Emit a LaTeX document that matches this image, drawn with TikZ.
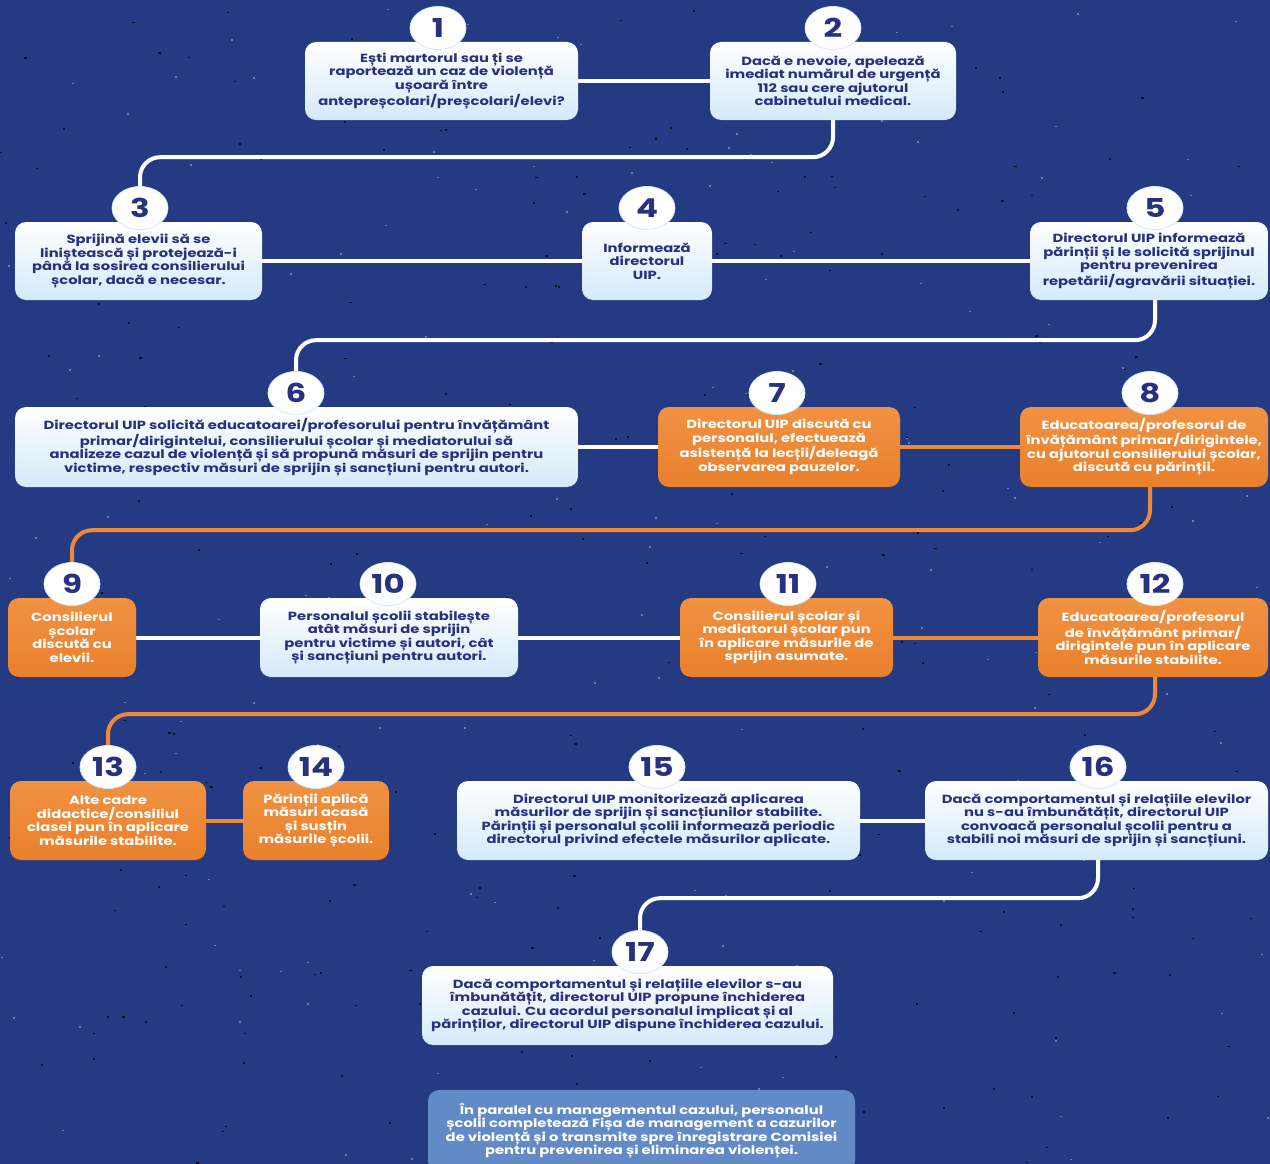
\documentclass[tikz,border=0pt]{standalone}
\usepackage{fontspec}
\setmainfont{Poppins}
\newfontfamily\widefam{Poppins}[FakeStretch=1.25]
\usetikzlibrary{calc,shapes.geometric}
\definecolor{bgblue}{RGB}{36,58,130}
\definecolor{navy}{RGB}{40,48,128}
\definecolor{boxblue}{RGB}{212,234,250}
\definecolor{orangetop}{RGB}{241,146,66}
\definecolor{orangebot}{RGB}{233,128,44}
\definecolor{orangeline}{RGB}{238,137,55}
\definecolor{notefill}{RGB}{98,138,198}
\pgfdeclarelayer{back}
\pgfdeclarelayer{conn}
\pgfsetlayers{back,conn,main}
\newcommand{\bxf}{\widefam\bfseries\fontsize{11.8}{13.5}\selectfont}
\newcommand{\nmf}{\widefam\bfseries\fontsize{26}{26}\selectfont}
\begin{document}
\begin{tikzpicture}[x=1pt,y=-1pt,
  wbox/.style={rectangle, rounded corners=11, top color=white, bottom color=boxblue, draw=none, inner sep=0, align=center, text=navy, font=\bxf},
  obox/.style={rectangle, rounded corners=11, top color=orangetop, bottom color=orangebot, draw=none, inner sep=0, align=center, text=white, font=\bxf},
  pbox/.style={rectangle, rounded corners=11, fill=notefill, draw=none, inner sep=0, align=center, text=white, font=\bxf},
  num/.style={ellipse, fill=white, draw=boxblue, line width=0.8, minimum width=56, minimum height=43, inner sep=0, text=navy, font=\nmf},
  wline/.style={line width=4, white},
  oline/.style={line width=4, orangeline}]
\clip (0,0) rectangle (1270,1164);
\begin{pgfonlayer}{back}
\fill[bgblue] (0,0) rectangle (1270,1164);
\pgfmathsetseed{7}
\foreach \i in {1,...,260}{
  \pgfmathsetmacro{\px}{rnd*1270}\pgfmathsetmacro{\py}{rnd*1164}
  \fill[black!80!bgblue] (\px,\py) rectangle ++(2.2,1.6);}
\foreach \i in {1,...,160}{
  \pgfmathsetmacro{\px}{rnd*1270}\pgfmathsetmacro{\py}{rnd*1164}
  \fill[white, opacity=0.35] (\px,\py) rectangle ++(2,1.4);}
\end{pgfonlayer}

% row 1
\node[wbox, minimum width=273, minimum height=78] (b1) at (441.5,81) {Ești martorul sau ți se\\raportează un caz de violență\\ușoară între\\antepreșcolari/preșcolari/elevi?};
\node[wbox, minimum width=246, minimum height=78] (b2) at (833,81) {Dacă e nevoie, apelează\\imediat numărul de urgență\\112 sau cere ajutorul\\cabinetului medical.};
\node[num] (c1) at (438,28) {1};
\node[num] (c2) at (833,28) {2};

% row 2
\node[wbox, minimum width=247, minimum height=78] (b3) at (138.5,261) {Sprijină elevii să se\\liniștească și protejează-i\\până la sosirea consilierului\\școlar, dacă e necesar.};
\node[wbox, minimum width=130, minimum height=78] (b4) at (647,261) {Informează\\directorul\\UIP.};
\node[wbox, minimum width=238, minimum height=78] (b5) at (1149,261) {Directorul UIP informează\\părinții și le solicită sprijinul\\pentru prevenirea\\repetării/agravării situației.};
\node[num] (c3) at (140,208) {3};
\node[num] (c4) at (647,208) {4};
\node[num] (c5) at (1155,208) {5};

% row 3
\node[wbox, minimum width=563, minimum height=80] (b6) at (296.5,447) {Directorul UIP solicită educatoarei/profesorului pentru învățământ\\primar/dirigintelui, consilierului școlar și mediatorului să\\analizeze cazul de violență și să propună măsuri de sprijin pentru\\victime, respectiv măsuri de sprijin și sancțiuni pentru autori.};
\node[obox, minimum width=242, minimum height=80] (b7) at (779,447) {Directorul UIP discută cu\\personalul, efectuează\\asistență la lecții/deleagă\\observarea pauzelor.};
\node[obox, minimum width=248, minimum height=80] (b8) at (1144,447) {Educatoarea/profesorul de\\învățământ primar/dirigintele,\\cu ajutorul consilierului școlar,\\discută cu părinții.};
\node[num] (c6) at (296,393) {6};
\node[num] (c7) at (777,393) {7};
\node[num] (c8) at (1150,393) {8};

% row 4
\node[obox, minimum width=128, minimum height=79] (b9) at (72,637.5) {Consilierul\\școlar\\discută cu\\elevii.};
\node[wbox, minimum width=258, minimum height=79] (b10) at (389,637.5) {Personalul școlii stabilește\\atât măsuri de sprijin\\pentru victime și autori, cât\\și sancțiuni pentru autori.};
\node[obox, minimum width=213, minimum height=79] (b11) at (786.5,637.5) {Consilierul școlar și\\mediatorul școlar pun\\în aplicare măsurile de\\sprijin asumate.};
\node[obox, minimum width=230, minimum height=79] (b12) at (1153,637.5) {Educatoarea/profesorul\\de învățământ primar/\\dirigintele pun în aplicare\\măsurile stabilite.};
\node[num] (c9) at (72,584) {9};
\node[num] (c10) at (388,584) {10};
\node[num] (c11) at (788,584) {11};
\node[num] (c12) at (1155,584) {12};

% row 5
\node[obox, minimum width=196, minimum height=79] (b13) at (108,820.5) {Alte cadre\\didactice/consiliul\\clasei pun în aplicare\\măsurile stabilite.};
\node[obox, minimum width=146, minimum height=79] (b14) at (316,820.5) {Părinții aplică\\măsuri acasă\\și susțin\\măsurile școlii.};
\node[wbox, minimum width=403, minimum height=79] (b15) at (658.5,820.5) {Directorul UIP monitorizează aplicarea\\măsurilor de sprijin și sancțiunilor stabilite.\\Părinții și personalul școlii informează periodic\\directorul privind efectele măsurilor aplicate.};
\node[wbox, minimum width=343, minimum height=79] (b16) at (1096.5,820.5) {Dacă comportamentul și relațiile elevilor\\nu s-au îmbunătățit, directorul UIP\\convoacă personalul școlii pentru a\\stabili noi măsuri de sprijin și sancțiuni.};
\node[num] (c13) at (108,767) {13};
\node[num] (c14) at (316,767) {14};
\node[num] (c15) at (657,767) {15};
\node[num] (c16) at (1098,767) {16};

% row 6
\node[wbox, minimum width=411, minimum height=79] (b17) at (627.5,1005.5) {Dacă comportamentul și relațiile elevilor s-au\\îmbunătățit, directorul UIP propune închiderea\\cazului. Cu acordul personalul implicat și al\\părinților, directorul UIP dispune închiderea cazului.};
\node[num] (c17) at (640,952) {17};

\node[pbox, minimum width=427, minimum height=82] (note) at (641.5,1131) {În paralel cu managementul cazului, personalul\\școlii completează Fișa de management a cazurilor\\de violență și o transmite spre înregistrare Comisiei\\pentru prevenirea și eliminarea violenței.};

\begin{pgfonlayer}{conn}
\draw[wline] (b1.east) -- (b2.west);
\draw[wline, rounded corners=20] (c2 |- b2.south) -- ++(0,37) -| (c3.north);
\draw[wline] (b3.east) -- (b4.west);
\draw[wline] (b4.east) -- (b5.west);
\draw[wline, rounded corners=20] (c5 |- b5.south) -- ++(0,40) -| (c6.north);
\draw[wline] (b6.east) -- (b7.west);
\draw[oline] (b7.east) -- (b8.west);
\draw[oline, rounded corners=20] (c8 |- b8.south) -- ++(0,43) -| (c9.north);
\draw[wline] (b9.east) -- (b10.west);
\draw[wline] (b10.east) -- (b11.west);
\draw[oline] (b11.east) -- (b12.west);
\draw[oline, rounded corners=20] (c12 |- b12.south) -- ++(0,37) -| (c13.north);
\draw[oline] (b13.east) -- (b14.west);
\draw[wline] (b15.east) -- (b16.west);
\draw[wline, rounded corners=20] (c16 |- b16.south) -- ++(0,38) -| (c17.north);
\end{pgfonlayer}
\end{tikzpicture}
\end{document}
